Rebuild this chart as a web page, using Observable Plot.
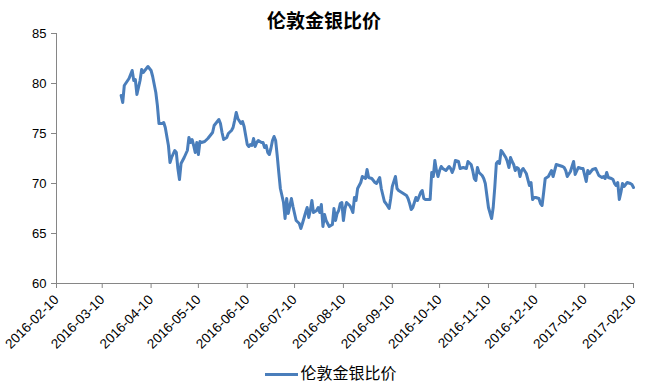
<!DOCTYPE html>
<html>
<head>
<meta charset="utf-8">
<script src="https://cdn.jsdelivr.net/npm/d3@7"></script>
<script src="https://cdn.jsdelivr.net/npm/@observablehq/plot@0.6"></script>
<style>
  body { margin: 0; background: #fff; }
  #title { height: 24px; padding-top: 6px; line-height: 24px; text-align: center;
           font: bold 19px "Noto Sans CJK SC", sans-serif; color: #000; }
  #chart svg { display: block; }
  #legend { height: 25px; line-height: 25px; text-align: center; font: 16px "Noto Sans CJK SC", sans-serif; color: #000; padding-left: 14px; }
  #legend .swatch { display: inline-block; width: 33px; height: 3px; background: #4A7EBB; vertical-align: middle; margin-right: 2px; }
</style>
</head>
<body>
<div id="title"></div>
<div id="chart"></div>
<div id="legend"><span class="swatch"></span><span id="legendText"></span></div>
<script>
const chartTitle = "伦敦金银比价";
const seriesName = "伦敦金银比价";
const yTicks = [60, 65, 70, 75, 80, 85];
const xTickLabels = ["2016-02-10","2016-03-10","2016-04-10","2016-05-10","2016-06-10","2016-07-10",
  "2016-08-10","2016-09-10","2016-10-10","2016-11-10","2016-12-10","2017-01-10","2017-02-10"];

const dates = [
"2016-03-22","2016-03-23","2016-03-24","2016-03-27","2016-03-29","2016-03-30","2016-03-31",
"2016-04-01","2016-04-03","2016-04-04","2016-04-05","2016-04-06","2016-04-08","2016-04-10","2016-04-11",
"2016-04-13","2016-04-14","2016-04-15","2016-04-17","2016-04-18","2016-04-19","2016-04-21","2016-04-22",
"2016-04-23","2016-04-25","2016-04-26","2016-04-27","2016-04-28","2016-04-29",
"2016-05-01","2016-05-03","2016-05-04","2016-05-05","2016-05-06","2016-05-07","2016-05-08","2016-05-09",
"2016-05-10","2016-05-11","2016-05-12","2016-05-14","2016-05-16","2016-05-17","2016-05-19","2016-05-20",
"2016-05-22","2016-05-23","2016-05-24","2016-05-25","2016-05-26","2016-05-28","2016-05-29","2016-05-31",
"2016-06-01","2016-06-02","2016-06-03","2016-06-04","2016-06-06","2016-06-07","2016-06-08","2016-06-09",
"2016-06-10","2016-06-11","2016-06-12","2016-06-13","2016-06-14","2016-06-15","2016-06-16","2016-06-17",
"2016-06-19","2016-06-20","2016-06-21","2016-06-22","2016-06-23","2016-06-24","2016-06-25","2016-06-26",
"2016-06-27","2016-06-28","2016-06-29","2016-06-30",
"2016-07-01","2016-07-03","2016-07-04","2016-07-05","2016-07-06","2016-07-08","2016-07-09","2016-07-11",
"2016-07-13","2016-07-14","2016-07-15","2016-07-17","2016-07-18","2016-07-19","2016-07-20","2016-07-21",
"2016-07-22","2016-07-24","2016-07-25","2016-07-26","2016-07-27","2016-07-28","2016-07-29","2016-07-30",
"2016-08-01","2016-08-03","2016-08-04","2016-08-05","2016-08-06","2016-08-07","2016-08-08","2016-08-09",
"2016-08-10","2016-08-11","2016-08-12","2016-08-14","2016-08-15","2016-08-16","2016-08-17","2016-08-18",
"2016-08-19","2016-08-21","2016-08-22","2016-08-24","2016-08-25","2016-08-26","2016-08-28","2016-08-30",
"2016-08-31",
"2016-09-02","2016-09-03","2016-09-05","2016-09-06","2016-09-08","2016-09-09","2016-09-10","2016-09-12",
"2016-09-13","2016-09-14","2016-09-15","2016-09-17","2016-09-19","2016-09-20","2016-09-21","2016-09-22",
"2016-09-23","2016-09-24","2016-09-25","2016-09-26","2016-09-28","2016-09-29","2016-09-30",
"2016-10-01","2016-10-02","2016-10-04","2016-10-05","2016-10-06","2016-10-07","2016-10-08","2016-10-09",
"2016-10-10","2016-10-11","2016-10-12","2016-10-14","2016-10-16","2016-10-17","2016-10-18","2016-10-19",
"2016-10-20","2016-10-22","2016-10-23","2016-10-25","2016-10-27","2016-10-28","2016-10-30","2016-10-31",
"2016-11-01","2016-11-02","2016-11-03","2016-11-04","2016-11-06","2016-11-07","2016-11-08","2016-11-09",
"2016-11-10","2016-11-12","2016-11-13","2016-11-14","2016-11-15","2016-11-16","2016-11-17","2016-11-18",
"2016-11-19","2016-11-21","2016-11-22","2016-11-23","2016-11-24","2016-11-25","2016-11-26","2016-11-27",
"2016-11-28","2016-11-29","2016-11-30",
"2016-12-01","2016-12-02","2016-12-04","2016-12-05","2016-12-06","2016-12-07","2016-12-08","2016-12-09",
"2016-12-10","2016-12-12","2016-12-13","2016-12-14","2016-12-15","2016-12-16","2016-12-18","2016-12-19",
"2016-12-20","2016-12-21","2016-12-22","2016-12-23","2016-12-25","2016-12-27","2016-12-28","2016-12-29",
"2016-12-30",
"2017-01-01","2017-01-02","2017-01-03","2017-01-04","2017-01-06","2017-01-08","2017-01-09","2017-01-11",
"2017-01-12","2017-01-13","2017-01-15","2017-01-17","2017-01-19","2017-01-20","2017-01-21","2017-01-22",
"2017-01-23","2017-01-24","2017-01-25","2017-01-27","2017-01-28","2017-01-29","2017-01-30","2017-01-31",
"2017-02-01","2017-02-02","2017-02-03","2017-02-04","2017-02-06","2017-02-08","2017-02-09","2017-02-10"
];

const ratio = [
78.8,78.1,79.8,80.5,81.3,80.3,80.4,
78.9,80.3,81.4,81.1,81.3,81.7,81.3,80.7,
79.1,77.8,76.0,76.0,76.1,75.6,73.8,72.1,
72.6,73.3,73.1,71.5,70.4,72.0,
72.6,73.3,74.6,74.1,74.4,73.8,73.1,74.1,
72.9,74.2,74.1,74.2,74.5,74.7,75.1,75.8,
76.2,76.4,76.0,75.1,74.4,74.6,75.0,75.3,
75.6,76.3,77.1,76.5,76.0,76.2,75.7,74.8,
73.9,73.7,73.9,73.8,74.5,73.7,74.1,74.3,
74.1,74.1,73.6,73.8,73.1,72.9,73.5,74.3,
74.7,74.3,72.8,71.1,
69.5,68.1,66.5,68.5,67.0,68.5,67.7,66.3,
66.0,65.5,66.0,67.1,67.6,66.6,67.3,68.3,
67.1,67.3,67.6,67.1,67.9,65.7,66.9,66.3,
65.7,65.9,67.5,66.3,67.0,67.3,68.0,68.1,
66.3,67.5,68.1,67.8,67.5,67.1,68.6,68.3,
69.5,70.1,70.7,70.5,71.4,70.6,70.5,70.1,
70.0,
70.6,69.5,68.2,68.0,67.5,68.5,69.7,70.7,
69.5,69.3,69.2,69.0,68.8,68.5,68.0,67.4,
67.6,68.1,68.6,68.3,69.1,69.3,68.5,
68.4,68.4,68.4,71.1,70.7,72.3,71.3,70.7,
71.3,71.7,71.5,71.3,71.7,71.5,71.1,71.5,
72.3,72.2,71.5,71.6,71.5,72.2,71.9,71.3,
70.5,70.3,71.6,71.1,70.8,70.5,70.0,68.8,
67.6,66.5,67.6,69.6,72.0,72.2,72.0,73.3,
73.1,72.6,72.2,71.6,72.6,72.2,71.9,71.3,
71.6,71.5,70.7,
71.3,71.5,71.0,70.4,69.8,70.1,68.4,68.6,
68.6,68.5,68.0,67.8,69.1,70.5,70.7,71.0,
71.3,70.7,71.3,71.9,71.8,71.7,71.6,71.3,
70.7,
71.2,71.7,72.2,70.9,71.6,71.5,71.5,70.2,
71.3,71.0,71.4,71.5,70.8,70.7,70.6,70.7,
70.5,71.1,70.6,70.5,70.4,70.0,69.8,70.1,
68.4,69.1,70.0,69.7,70.1,70.0,69.9,69.6
];

const parse = d3.utcParse("%Y-%m-%d");
const data = dates.map((d, i) => ({date: parse(d), value: ratio[i]}));
const xTicks = xTickLabels.map(parse);

document.getElementById("title").textContent = chartTitle;
document.getElementById("legendText").textContent = seriesName;

const axisColor = "#868686";
const chart = Plot.plot({
  width: 648,
  height: 330,
  marginTop: 3,
  marginBottom: 77,
  marginLeft: 56,
  marginRight: 15,
  style: {fontFamily: "'Liberation Sans', Arial, sans-serif", fontSize: "13px", color: "#000", background: "#fff", overflow: "visible"},
  x: {type: "utc", domain: [xTicks[0], xTicks[xTicks.length - 1]]},
  y: {domain: [yTicks[0], yTicks[yTicks.length - 1]]},
  marks: [
    Plot.ruleX([xTicks[0]], {stroke: axisColor}),
    Plot.ruleY([yTicks[0]], {stroke: axisColor}),
    Plot.axisY({ticks: yTicks, tickSize: 5, tickPadding: 5, label: null, stroke: axisColor, fill: "#000", strokeOpacity: 1}),
    Plot.axisX({ticks: xTicks, tickFormat: d3.utcFormat("%Y-%m-%d"), tickRotate: -45, tickSize: 5, tickPadding: 9,
                fontSize: 13.5, label: null, stroke: axisColor, fill: "#000", strokeOpacity: 1}),
    Plot.lineY(data, {x: "date", y: "value", stroke: "#4A7EBB", strokeWidth: 3, strokeLinejoin: "round"})
  ]
});
document.getElementById("chart").appendChild(chart);
</script>
</body>
</html>
